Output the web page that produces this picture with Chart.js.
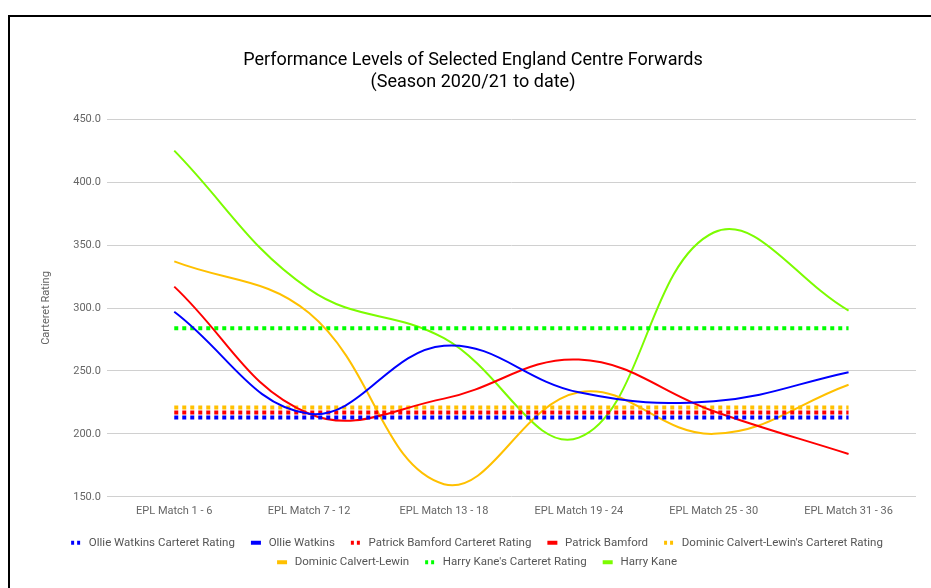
<!DOCTYPE html>
<html>
<head>
<meta charset="utf-8">
<script src="https://cdn.jsdelivr.net/npm/chart.js@4"></script>
<style>
  body { margin: 0; background: #fff; overflow: hidden; }
  #quadro { position: absolute; left: 8px; top: 15px; width: 940px; height: 590px; border: 2px solid #000; background: #fff; }
</style>
</head>
<body>
<div id="quadro"><canvas id="graficoAvancados" width="940" height="590"></canvas></div>
<script>
var partidas = ['EPL Match 1 - 6', 'EPL Match 7 - 12', 'EPL Match 13 - 18', 'EPL Match 19 - 24', 'EPL Match 25 - 30', 'EPL Match 31 - 36'];
var watkinsRating = [213, 213, 213, 213, 213, 213];
var watkins = [297, 216, 270, 233, 226, 249];
var bamfordRating = [217, 217, 217, 217, 217, 217];
var bamford = [317, 216, 228, 259, 218, 184];
var calvertRating = [221, 221, 221, 221, 221, 221];
var calvert = [337, 296, 160, 233, 200, 239];
var kaneRating = [284, 284, 284, 284, 284, 284];
var kane = [425, 315, 276, 197, 360, 298];
var ticksY = [150, 200, 250, 300, 350, 400, 450];

var azul = '#0000ff', vermelho = '#ff0000', amarelo = '#ffc000', verde = '#00ff00', lima = '#7cfc00';

// marcador da legenda: espaço à esquerda + traço (ou dois quadradinhos)
function marcador(cor, pontilhado) {
    var c = document.createElement('canvas');
    c.width = 20; c.height = 12;
    var ctx = c.getContext('2d');
    ctx.fillStyle = cor;
    if (pontilhado) {
        ctx.fillRect(8, 4, 3, 4);
        ctx.fillRect(14, 4, 3, 4);
    } else {
        ctx.fillRect(8, 4, 10, 4);
    }
    return c;
}

function pontilhada(rotulo, valores, cor) {
    return { label: rotulo, data: valores, borderColor: cor, backgroundColor: cor, borderWidth: 4, borderDash: [4, 4], pointRadius: 0, tension: 0, pontilhado: true };
}
function curva(rotulo, valores, cor) {
    return { label: rotulo, data: valores, borderColor: cor, backgroundColor: cor, borderWidth: 2, pointRadius: 0, tension: 0.4 };
}

var fonte = "Roboto, 'Noto Sans', sans-serif";

new Chart(document.getElementById('graficoAvancados'), {
    type: 'line',
    data: {
        labels: partidas,
        datasets: [
            pontilhada('Ollie Watkins Carteret Rating', watkinsRating, azul),
            curva('Ollie Watkins', watkins, azul),
            pontilhada('Patrick Bamford Carteret Rating', bamfordRating, vermelho),
            curva('Patrick Bamford', bamford, vermelho),
            pontilhada("Dominic Calvert-Lewin's Carteret Rating", calvertRating, amarelo),
            curva('Dominic Calvert-Lewin', calvert, amarelo),
            pontilhada("Harry Kane's Carteret Rating", kaneRating, verde),
            curva('Harry Kane', kane, lima)
        ]
    },
    options: {
        responsive: false,
        animation: false,
        layout: { padding: { left: 20, right: 34, top: 0, bottom: 29 } },
        plugins: {
            title: {
                display: true,
                text: ['Performance Levels of Selected England Centre Forwards', '(Season 2020/21 to date)'],
                color: '#000',
                font: { family: fonte, size: 18, weight: 'normal', lineHeight: 1.2 },
                padding: { top: 33, bottom: 26 }
            },
            legend: {
                position: 'bottom',
                labels: {
                    color: '#555',
                    font: { family: fonte, size: 11.5 },
                    usePointStyle: true,
                    pointStyleWidth: 20,
                    boxHeight: 11,
                    padding: 8,
                    generateLabels: function (grafico) {
                        return grafico.data.datasets.map(function (ds, i) {
                            return {
                                text: ds.label, datasetIndex: i, fontColor: '#555',
                                fillStyle: ds.borderColor, strokeStyle: ds.borderColor, lineWidth: 0,
                                pointStyle: marcador(ds.borderColor, ds.pontilhado), hidden: false
                            };
                        });
                    }
                }
            },
            tooltip: { enabled: false }
        },
        scales: {
            x: {
                offset: true,
                grid: { display: false },
                border: { display: false },
                ticks: { color: '#666', font: { family: fonte, size: 11 }, padding: 0, maxRotation: 0 },
                afterFit: function (eixo) { eixo.height += 11; }
            },
            y: {
                min: 150, max: 450,
                afterBuildTicks: function (eixo) { eixo.ticks = ticksY.map(function (v) { return { value: v }; }); },
                grid: { color: '#d0d0d0', drawTicks: false },
                border: { display: false },
                ticks: { color: '#666', font: { family: fonte, size: 11 }, padding: 6, callback: function (v) { return Number(v).toFixed(1); } },
                title: { display: true, text: 'Carteret Rating', color: '#666', font: { family: fonte, size: 11 }, padding: { top: 10, bottom: 14 } }
            }
        }
    }
});
</script>
</body>
</html>
